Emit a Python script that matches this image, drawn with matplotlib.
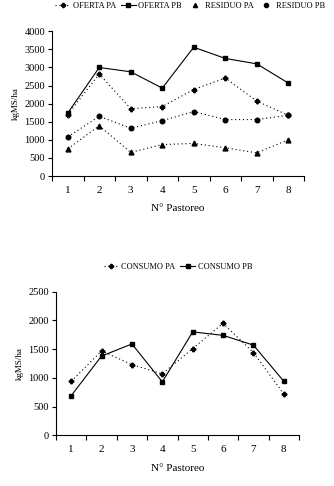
import matplotlib
matplotlib.use("Agg")
import matplotlib.pyplot as plt
from matplotlib.lines import Line2D

plt.rcParams['font.family'] = ['Liberation Serif', 'DejaVu Serif']

pastoreo = [1, 2, 3, 4, 5, 6, 7, 8]
oferta_pa = [1700, 2820, 1860, 1920, 2390, 2710, 2070, 1680]
oferta_pb = [1740, 3000, 2880, 2430, 3560, 3250, 3100, 2570]
residuo_pa = [750, 1390, 650, 870, 900, 780, 640, 1000]
residuo_pb = [1080, 1650, 1320, 1530, 1780, 1560, 1560, 1680]

consumo_pa = [940, 1470, 1230, 1070, 1510, 1950, 1440, 720]
consumo_pb = [690, 1380, 1590, 930, 1800, 1740, 1570, 940]

top_yticks = [0, 500, 1000, 1500, 2000, 2500, 3000, 3500, 4000]
bot_yticks = [0, 500, 1000, 1500, 2000, 2500]

W, H = 334, 486
fig = plt.figure(figsize=(W / 100, H / 100), dpi=100)

dot = (0, (1, 2.5))
lw = 0.8
fs = 7.5


def style_axes(ax, yticks):
    for s in ['top', 'right']:
        ax.spines[s].set_visible(False)
    for s in ['left', 'bottom']:
        ax.spines[s].set_linewidth(0.8)
    ax.set_xlim(0.5, 8.5)
    ax.set_ylim(yticks[0], yticks[-1])
    ax.set_yticks(yticks)
    ax.set_xticks([x + 0.5 for x in [0] + pastoreo])
    ax.set_xticklabels([])
    ax.set_xticks(pastoreo, minor=True)
    ax.set_xticklabels([str(p) for p in pastoreo], minor=True, fontsize=fs + 0.5)
    ax.tick_params(axis='x', which='minor', length=0, pad=7)
    ax.tick_params(axis='x', which='major', length=3.5, width=0.8, direction='out')
    ax.tick_params(axis='y', length=3, width=0.8, direction='out', labelsize=fs, pad=2)
    ax.set_xlabel('N° Pastoreo', fontsize=fs + 0.5, labelpad=7)
    ax.set_ylabel('kgMS/ha', fontsize=6.5, labelpad=3)


# Top chart
ax1 = fig.add_axes([52 / W, (H - 176) / H, (304 - 52) / W, (176 - 31.3) / H])
ax1.plot(pastoreo, oferta_pa, color='black', lw=lw, ls=dot, marker='P', ms=3.2)
ax1.plot(pastoreo, oferta_pb, color='black', lw=lw, ls='-', marker='s', ms=3.2)
ax1.plot(pastoreo, residuo_pa, color='black', lw=lw, ls=dot, marker='^', ms=3.5)
ax1.plot(pastoreo, residuo_pb, color='black', lw=lw, ls=dot, marker='o', ms=3.3)
style_axes(ax1, top_yticks)

h1 = [
    Line2D([], [], color='black', lw=lw, ls=dot, marker='P', ms=3),
    Line2D([], [], color='black', lw=lw, ls='-', marker='s', ms=3),
    Line2D([], [], color='black', lw=0, marker='^', ms=3),
    Line2D([], [], color='black', lw=0, marker='o', ms=3),
]
fig.legend(h1, ['OFERTA PA', 'OFERTA PB', 'RESIDUO PA', 'RESIDUO PB'],
           loc='center', bbox_to_anchor=(190 / W, (H - 6) / H), ncol=4,
           frameon=False, fontsize=6, handlelength=1.8, handletextpad=0.3,
           columnspacing=0.6, borderpad=0)

# Bottom chart
ax2 = fig.add_axes([56 / W, (H - 435.3) / H, (299 - 56) / W, (435.3 - 291.7) / H])
ax2.plot(pastoreo, consumo_pa, color='black', lw=lw, ls=dot, marker='P', ms=3.2)
ax2.plot(pastoreo, consumo_pb, color='black', lw=lw, ls='-', marker='s', ms=3.2)
style_axes(ax2, bot_yticks)

h2 = [
    Line2D([], [], color='black', lw=lw, ls=dot, marker='P', ms=3),
    Line2D([], [], color='black', lw=lw, ls='-', marker='s', ms=3),
]
fig.legend(h2, ['CONSUMO PA', 'CONSUMO PB'],
           loc='center', bbox_to_anchor=(178 / W, (H - 267) / H), ncol=2,
           frameon=False, fontsize=6, handlelength=1.8, handletextpad=0.3,
           columnspacing=0.6, borderpad=0)

fig.savefig('out.png', dpi=100, facecolor='white')
